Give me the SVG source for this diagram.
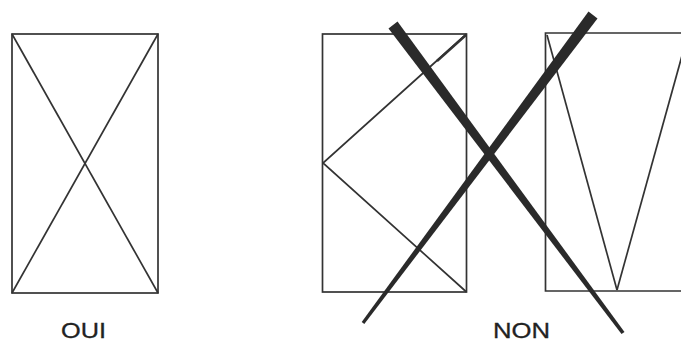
<svg xmlns="http://www.w3.org/2000/svg" width="681" height="343" viewBox="0 0 681 343">
<style>
.ln{fill:none;stroke:#333;stroke-width:1.7;stroke-linejoin:miter}
.th{fill:#2a2a2a;stroke:none}
.lb{font-family:"Liberation Sans",Arial,sans-serif;font-size:22px;fill:#222;stroke:#222;stroke-width:0.3}
</style>
<rect width="681" height="343" fill="#fff"/>
<g id="oui">
<rect class="ln" x="12" y="34" width="146" height="259"/>
<line class="ln" x1="12" y1="34" x2="158" y2="293"/>
<line class="ln" x1="158" y1="34" x2="12" y2="293"/>
<text class="lb" x="61" y="338" textLength="45" lengthAdjust="spacingAndGlyphs">OUI</text>
</g>
<g id="non-middle">
<rect class="ln" x="322.5" y="34" width="144" height="258"/>
<polyline class="ln" points="466.5,34 323,163 466.5,292"/>
<line x1="466" y1="35" x2="437" y2="61" stroke="#333" stroke-width="2.4"/>
</g>
<g id="non-right">
<path class="ln" d="M690,33 H545.5 V291 H690"/>
<line class="ln" x1="547" y1="35" x2="617" y2="290"/>
<line class="ln" x1="688" y1="34" x2="617" y2="290"/>
</g>
<g id="cross">
<polygon class="th" points="397.5,21.5 624.5,332 621.5,334 388.5,28.5"/>
<polygon class="th" points="597.5,18.5 364.3,324 361.7,322 588.5,11.5"/>
</g>
<text class="lb" x="493" y="338" textLength="57" lengthAdjust="spacingAndGlyphs" font-size="24">NON</text>
</svg>
